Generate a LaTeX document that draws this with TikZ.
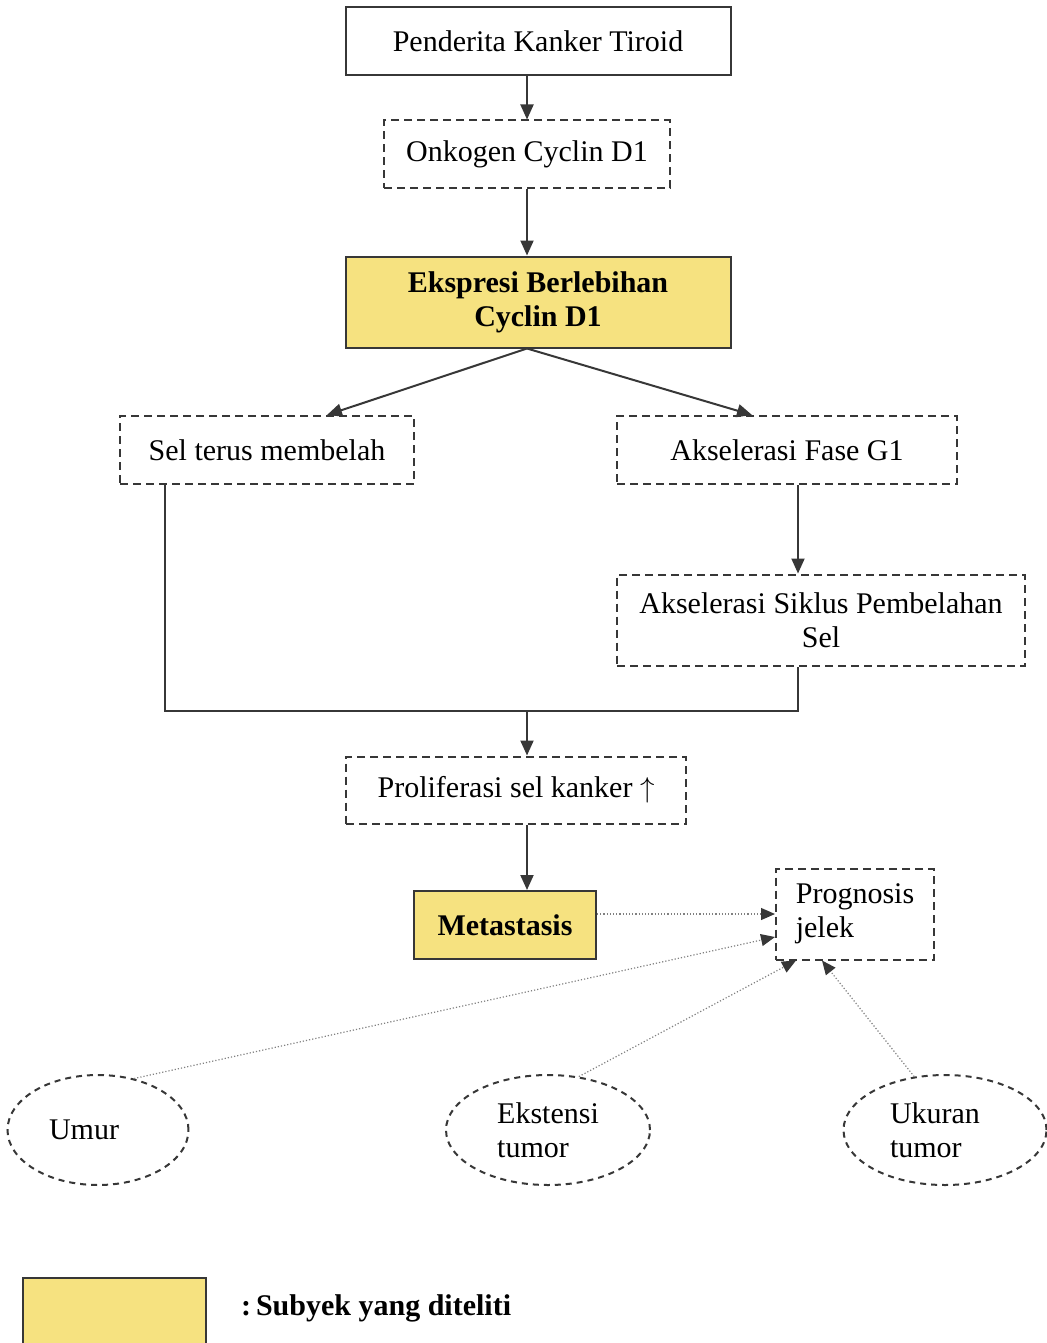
\documentclass[tikz,border=0pt]{standalone}
\usepackage{fontspec}
\setmainfont{Liberation Serif}
\usetikzlibrary{arrows.meta,shapes.geometric,calc}
\definecolor{subyek}{RGB}{246,226,128}
\definecolor{garis}{RGB}{55,55,55}

\begin{document}
\begin{tikzpicture}[x=0.5pt,y=-0.5pt,>={Triangle[length=7.5pt,width=6.5pt]},font=\fontsize{15}{17}\selectfont,
  kotak/.style={draw=garis,line width=1pt,minimum height=34pt,inner sep=0pt,align=center},
  putus/.style={kotak,dash pattern=on 4pt off 2.5pt},
  diteliti/.style={kotak,fill=subyek,font=\fontsize{15}{17}\selectfont\bfseries},
  faktor/.style={ellipse,draw=garis,line width=1pt,dash pattern=on 3pt off 2.5pt,minimum height=55pt,inner sep=0pt,align=left},
  panah/.style={->,draw=garis,line width=1pt},
  titik/.style={-{Triangle[length=7pt,width=6pt,color=garis]},draw=gray,line width=0.6pt,densely dotted}]
\useasboundingbox (0,0) rectangle (1046,1343);
\node[kotak,minimum width=192.5pt] (penderita) at (538,41) {Penderita Kanker Tiroid};
\node[putus,minimum width=143pt,minimum height=33.5pt] (onkogen) at (527,154) {Onkogen Cyclin D1};
\node[diteliti,minimum width=192.5pt,minimum height=45.5pt] (ekspresi) at (538,302) {Ekspresi Berlebihan\\Cyclin D1};
\node[putus,minimum width=147pt] (sel) at (267,450) {Sel terus membelah};
\node[putus,minimum width=170pt] (g1) at (787,450) {Akselerasi Fase G1};
\node[putus,minimum width=204pt,minimum height=45.5pt] (siklus) at (821,620) {Akselerasi Siklus Pembelahan\\Sel};
\node[putus,minimum width=170pt,minimum height=33.5pt] (proliferasi) at (516,790) {Proliferasi sel kanker $\uparrow$};
\node[diteliti,minimum width=91pt] (metastasis) at (505,925) {Metastasis};
\node[putus,minimum width=79pt,minimum height=45.5pt,align=left] (prognosis) at (855,914) {Prognosis\\jelek};
\node[faktor,minimum width=90.5pt] (umur) at (98,1130) {Umur\hspace{14pt}};
\node[faktor,minimum width=102pt] (ekstensi) at (548,1130) {Ekstensi\\tumor\hspace{5pt}};
\node[faktor,minimum width=101.5pt] (ukuran) at (945,1130) {\hspace{-10pt}Ukuran\\\hspace{-10pt}tumor};
\node[diteliti,minimum width=91.5pt,minimum height=40pt,anchor=north west] (legenda) at (22,1277) {};
\node[anchor=west,font=\fontsize{15}{17}\selectfont\bfseries] (ket) at (234,1308) {:\,Subyek yang diteliti};
\coordinate (kiri) at (165,711); \coordinate (tengah) at (527,711); \coordinate (kanan) at (798,711);
\draw[panah] (tengah |- penderita.south) -- (tengah |- onkogen.north);
\draw[panah] (tengah |- onkogen.south) -- (tengah |- ekspresi.north);
\draw[panah] (tengah |- ekspresi.south) -- ($(sel.north)+(60,0)$);
\draw[panah] (tengah |- ekspresi.south) -- ($(g1.north)+(-35,0)$);
\draw[panah] (kanan |- g1.south) -- (kanan |- siklus.north);
\draw[draw=garis,line width=1pt] (kiri |- sel.south) -- (kiri) -- (kanan) -- (kanan |- siklus.south);
\draw[panah] (tengah) -- (tengah |- proliferasi.north);
\draw[panah] (tengah |- proliferasi.south) -- (tengah |- metastasis.north);
\draw[titik] (metastasis.east |- prognosis.west) -- (prognosis.west);
\draw[titik] (umur.55) -- ($(prognosis.west)+(0,23)$);
\draw[titik] (ekstensi.60) -- ($(prognosis.south west)+(21,0)$);
\draw[titik] (ukuran.120) -- ($(prognosis.south)+(-33,0)$);
\end{tikzpicture}
\end{document}
